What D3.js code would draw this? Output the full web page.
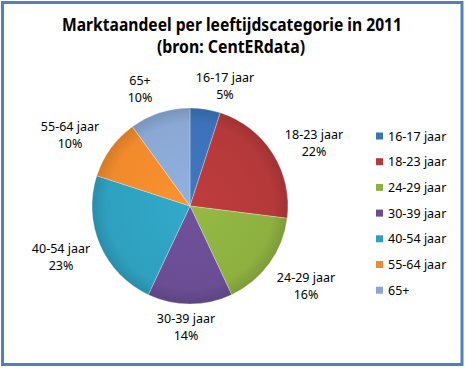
<!DOCTYPE html>
<html><head><meta charset="utf-8">
<script src="https://cdn.jsdelivr.net/npm/d3@7"></script>
<style>body{margin:0;background:#fff}svg{display:block}</style>
</head><body>
<script>
const categories = ["16-17 jaar","18-23 jaar","24-29 jaar","30-39 jaar","40-54 jaar","55-64 jaar","65+"];
const values = [5,22,16,14,23,10,10];
const colors = ["#3C72B8","#B5393A","#8DB040","#6A4D93","#2FA0BF","#F08A2C","#8AA8D3"];
const titleLines = ["Marktaandeel per leeftijdscategorie in 2011","(bron: CentERdata)"];
const labelPos = [[225,82],[314,139],[306,282],[186,323],[61,253],[70,131],[140,85]];

const W=465,H=369;
const svg=d3.select("body").append("svg").attr("width",W).attr("height",H);
svg.append("rect").attr("width",W).attr("height",H).attr("fill","#fff");
svg.append("rect").attr("x",2.5).attr("y",2.5).attr("width",459.5).attr("height",362).attr("fill","none").attr("stroke","#4F81BD").attr("stroke-width",3);

const font="'Noto Sans', 'DejaVu Sans', sans-serif";
svg.append("text").attr("x",232).attr("y",31).attr("text-anchor","middle").attr("font-family",font).attr("font-weight","bold").attr("font-size",17).attr("textLength",340).attr("lengthAdjust","spacingAndGlyphs").attr("fill","#000").text(titleLines[0]);
svg.append("text").attr("x",231).attr("y",53).attr("text-anchor","middle").attr("font-family",font).attr("font-weight","bold").attr("font-size",17).attr("textLength",148).attr("lengthAdjust","spacingAndGlyphs").attr("fill","#000").text(titleLines[1]);

const defs=svg.append("defs");
colors.forEach((c,i)=>{
  const g=defs.append("radialGradient").attr("id","g"+i).attr("gradientUnits","userSpaceOnUse").attr("cx",0).attr("cy",0).attr("r",98);
  g.append("stop").attr("offset","0%").attr("stop-color",d3.color(c).brighter(0.15));
  g.append("stop").attr("offset","85%").attr("stop-color",c);
  g.append("stop").attr("offset","100%").attr("stop-color",d3.color(c).darker(0.35));
});

const cx=190,cy=206,r=98;
const pie=d3.pie().sort(null).value(d=>d)(values);
const arc=d3.arc().innerRadius(0).outerRadius(r);
const g=svg.append("g").attr("transform",`translate(${cx},${cy})`);
g.selectAll("path").data(pie).join("path").attr("d",arc).attr("fill",(d,i)=>`url(#g${i})`).attr("stroke","rgba(255,255,255,0.35)").attr("stroke-width",0.8);

const lab=svg.append("g").attr("font-family",font).attr("font-size",12.5).attr("fill","#000").attr("text-anchor","middle");
pie.forEach((d,i)=>{
  const [x,y]=labelPos[i];
  lab.append("text").attr("x",x).attr("y",y).text(categories[i]);
  lab.append("text").attr("x",x).attr("y",y+17).text(Math.round(d.data/d3.sum(values)*100)+"%");
});

const leg=svg.append("g").attr("font-family",font).attr("font-size",12.5);
categories.forEach((c,i)=>{
  const y=136+i*25.7;
  leg.append("rect").attr("x",376).attr("y",y-3.5).attr("width",7).attr("height",7).attr("fill",colors[i]);
  leg.append("text").attr("x",388).attr("y",y+4.5).attr("fill","#000").text(c);
});
</script>
</body></html>
